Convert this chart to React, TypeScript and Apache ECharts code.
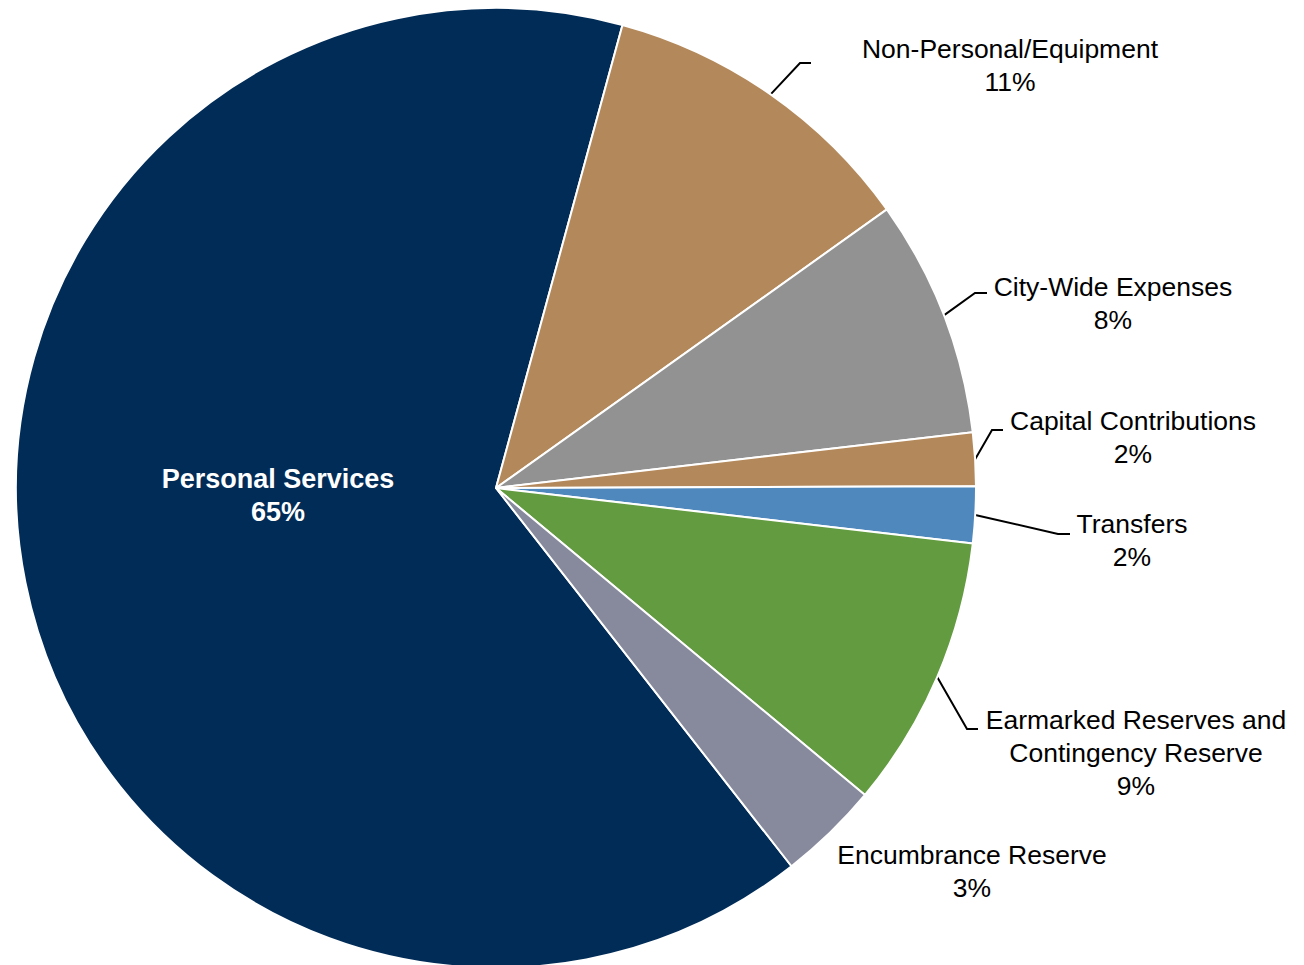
import React, { useEffect, useRef } from "react";
import * as echarts from "echarts";

// Data (clockwise, starting with Personal Services)
const categories = [
  "Personal Services",
  "Non-Personal/Equipment",
  "City-Wide Expenses",
  "Capital Contributions",
  "Transfers",
  "Earmarked Reserves and\nContingency Reserve",
  "Encumbrance Reserve",
];
const shares = [64.8, 10.9, 8.0, 1.8, 1.9, 9.2, 3.4];
const colors = ["#002C57", "#B3885A", "#929292", "#B3885A", "#4F88BD", "#639B40", "#878A9C"];

// Label anchor positions (block centres) and leader-line elbow/end points
const labelPos: number[][] = [
  [278, 495],
  [1010, 65],
  [1113, 303],
  [1133, 437],
  [1132, 540],
  [1136, 753],
  [972, 871],
];
const leaderPts: (number[][] | null)[] = [
  null,
  [[800, 63], [811, 63]],
  [[975, 293], [987, 293]],
  [[992, 430], [1003, 430]],
  [[1058, 534], [1070, 534]],
  [[967, 729], [978, 729]],
  null,
];

const FONT = "'Liberation Sans', Arial, Helvetica, sans-serif";

export default function App() {
  const ref = useRef<HTMLDivElement>(null);
  useEffect(() => {
    if (!ref.current) return;
    const chart = echarts.init(ref.current, undefined, { renderer: "svg" });
    const data = categories.map((name, i) => {
      const item: any = {
        name,
        value: shares[i],
        itemStyle: { color: colors[i] },
      };
      if (i === 0) {
        item.label = { color: "#ffffff", fontWeight: "bold", fontSize: 27 };
        item.labelLine = { show: false };
      }
      if (i === 6) {
        item.labelLine = { show: false };
      }
      return item;
    });
    chart.setOption({
      animation: false,
      backgroundColor: "#ffffff",
      series: [
        {
          type: "pie",
          center: [496, 488],
          radius: 480,
          startAngle: 308,
          clockwise: true,
          avoidLabelOverlap: false,
          percentPrecision: 0,
          itemStyle: { borderColor: "#ffffff", borderWidth: 2 },
          label: {
            show: true,
            position: "outside",
            formatter: "{b}\n{d}%",
            fontFamily: FONT,
            fontSize: 26.5,
            lineHeight: 33,
            color: "#000000",
            align: "center",
          },
          labelLine: {
            show: true,
            length: 30,
            length2: 12,
            lineStyle: { color: "#000000", width: 2 },
          },
          emphasis: { disabled: true },
          labelLayout: (params: any) => {
            const i = params.dataIndex;
            const p = labelPos[i];
            const res: any = { x: p[0], y: p[1], align: "center", verticalAlign: "middle" };
            const lp = leaderPts[i];
            if (lp && params.labelLinePoints && params.labelLinePoints.length) {
              res.labelLinePoints = [params.labelLinePoints[0], lp[0], lp[1]];
            }
            return res;
          },
          data,
        },
      ],
    });
    return () => chart.dispose();
  }, []);
  return (
    <div
      ref={ref}
      style={{ position: "fixed", left: 0, top: 0, width: 1304, height: 965, background: "#fff" }}
    />
  );
}
